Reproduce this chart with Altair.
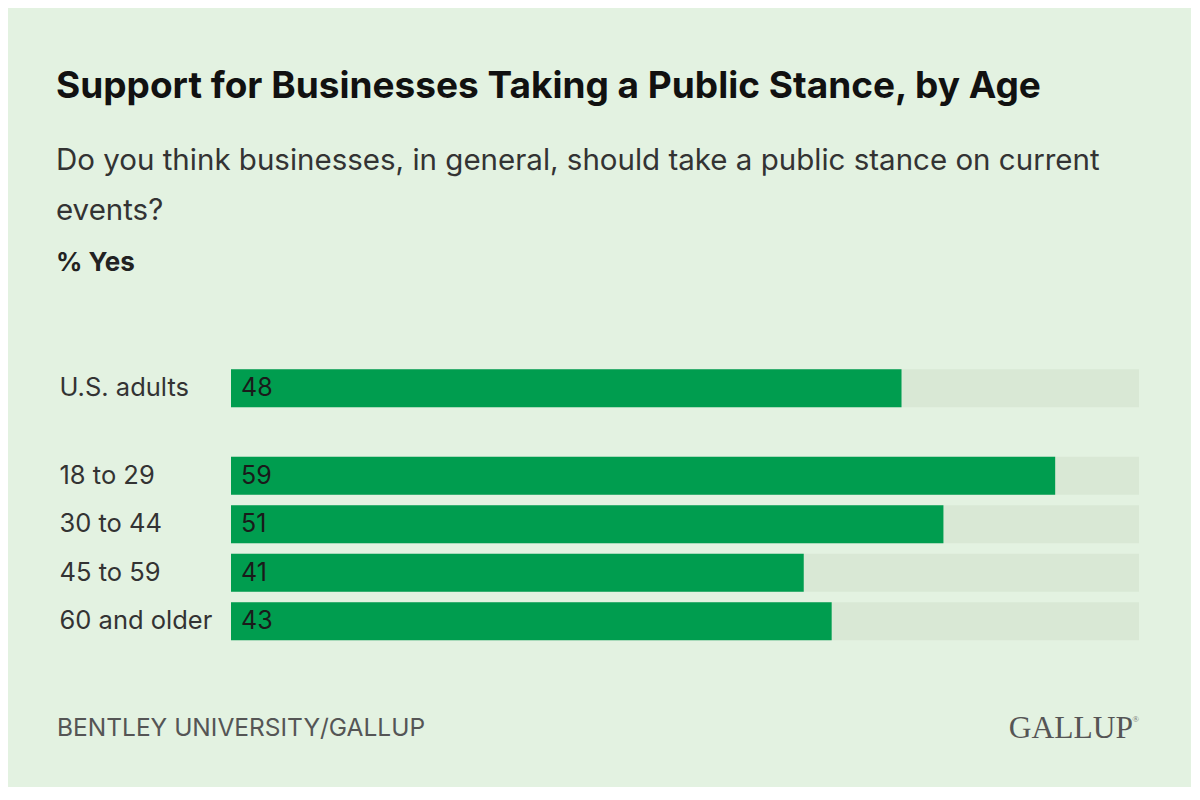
import altair as alt
import pandas as pd

TITLE = "Support for Businesses Taking a Public Stance, by Age"
SUBTITLE = ["Do you think businesses, in general, should take a public stance on current", "events?"]
MEASURE = "% Yes"
SOURCE = "BENTLEY UNIVERSITY/GALLUP"
LOGO = "GALLUP"

overall_labels = ["U.S. adults"]
overall_values = [48]
age_labels = ["18 to 29", "30 to 44", "45 to 59", "60 and older"]
age_values = [59, 51, 41, 43]
X_MAX = 65

BG = "#e3f2e1"
GREEN = "#009d4f"
TRACK = "#d9e8d5"
FONT = "Inter"
PLOT_W = 908
STEP = 48.5


def bar_panel(labels, values, title=None):
    df = pd.DataFrame({"group": labels, "value": values, "full": [X_MAX] * len(labels)})
    y = alt.Y(
        "group:N",
        sort=labels,
        scale=alt.Scale(paddingInner=0.2165, paddingOuter=0.108),
        axis=alt.Axis(
            title=None, domain=False, ticks=False, labelAlign="left",
            labelPadding=172, labelFontSize=25.5, labelColor="#333333",
            labelFont=FONT, labelLimit=200,
        ),
    )
    xs = alt.Scale(domain=[0, X_MAX], nice=False, zero=True)
    base = alt.Chart(df)
    track = base.mark_bar(color=TRACK).encode(
        x=alt.X("full:Q", scale=xs, axis=None), y=y)
    bar = base.mark_bar(color=GREEN).encode(
        x=alt.X("value:Q", scale=xs, axis=None), y=y)
    text = base.mark_text(
        align="left", baseline="middle", dx=10, font=FONT, fontSize=25, color="#1a1a1a"
    ).encode(x=alt.datum(0, scale=xs), y=y, text="value:Q")
    layer = alt.layer(track, bar, text).properties(width=PLOT_W, height=alt.Step(STEP))
    if title:
        layer = layer.properties(title=alt.TitleParams(
            title, anchor="start", fontSize=26, fontWeight="bold", font=FONT,
            color="#222222", offset=88, dx=-3))
    return layer


top = bar_panel(overall_labels, overall_values, MEASURE)
bottom = bar_panel(age_labels, age_values)

src_df = pd.DataFrame({"t": [SOURCE]})
logo_df = pd.DataFrame({"t": [LOGO]})
source = alt.Chart(src_df).mark_text(
    align="left", baseline="middle", font=FONT, fontSize=24.5, color="#555555"
).encode(x=alt.value(-174), y=alt.value(45), text="t:N")
logo = alt.Chart(logo_df).mark_text(
    align="right", baseline="middle", font="Liberation Serif", fontSize=31.5, color="#555555"
).encode(x=alt.value(PLOT_W - 6), y=alt.value(45), text="t:N")
reg = alt.Chart(logo_df).mark_text(
    align="right", baseline="middle", font="Liberation Serif", fontSize=9, color="#777777"
).encode(x=alt.value(PLOT_W), y=alt.value(35), text=alt.value("®"))
footer = alt.layer(source, logo, reg).properties(width=PLOT_W, height=60)

chart = alt.vconcat(top, bottom, footer, spacing=38.5).properties(
    title=alt.TitleParams(
        TITLE, subtitle=SUBTITLE, anchor="start", font=FONT, fontSize=37,
        fontWeight="bold", color="#111111", subtitleFont=FONT, subtitleFontSize=29.5,
        subtitleColor="#333333", subtitleLineHeight=50, subtitlePadding=41, offset=24,
    ),
    padding={"left": 48, "top": 59, "right": 52, "bottom": 42},
    background=BG,
).configure_view(stroke=None).configure_concat(spacing=38.5)

chart.save("out.html", embed_options={"renderer": "svg", "actions": False})
